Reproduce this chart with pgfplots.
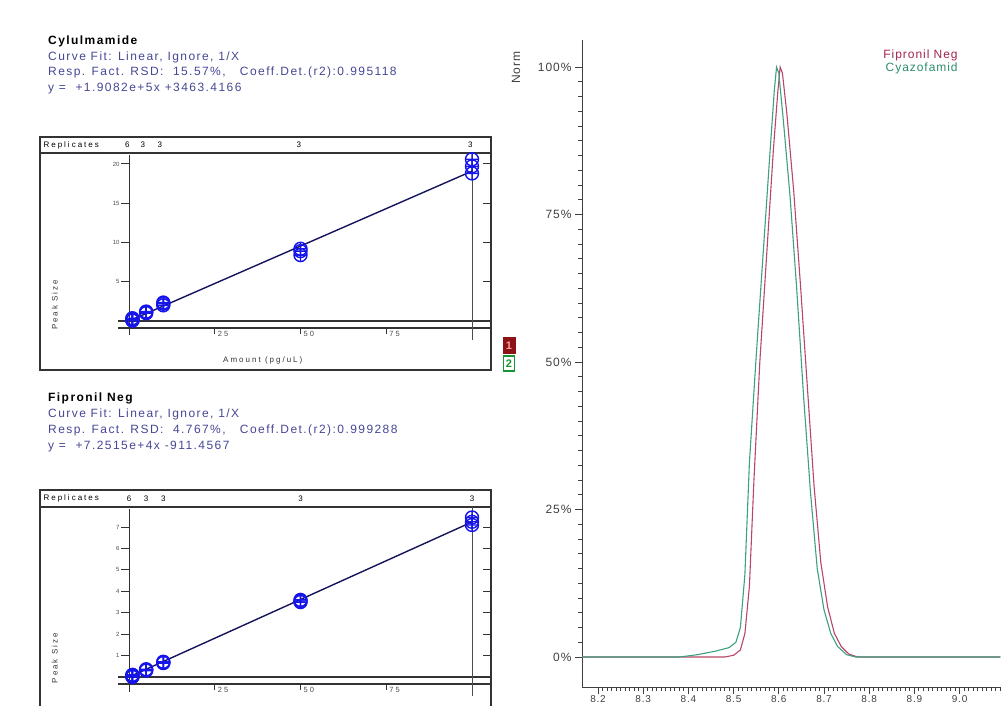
\documentclass[border=0pt]{standalone}
\usepackage{pgfplots}
\pgfplotsset{compat=1.18}
\usepackage{pgfplotstable}
\usetikzlibrary{plotmarks}
\usepackage{fontspec}
\setmainfont{Liberation Sans}
\newfontfamily\infofont[LetterSpace=12]{Liberation Sans}
\newfontfamily\smallfont[LetterSpace=25]{Liberation Sans}
\newfontfamily\chromfont[LetterSpace=8]{Liberation Sans}

\definecolor{calblue}{RGB}{20,20,235}
\definecolor{fitline}{RGB}{20,20,90}
\definecolor{infotext}{RGB}{70,70,150}
\definecolor{fipred}{RGB}{185,70,100}
\definecolor{cyagreen}{RGB}{60,160,130}
\definecolor{fiptext}{RGB}{165,35,75}
\definecolor{cyatext}{RGB}{45,140,110}
\definecolor{boxred}{RGB}{140,20,25}
\definecolor{boxgreen}{RGB}{20,150,50}

% calibration points, peak size in 1e6 units
\pgfplotstableread{
amt size
1 0.05
1 0.12
1 0.20
1 0.28
1 0.35
1 0.10
5 1.00
5 1.10
5 1.20
10 2.00
10 2.20
10 2.35
50 8.40
50 8.90
50 9.20
100 18.8
100 19.7
100 20.6
}\cylpts

\pgfplotstableread{
amt size
1 0.00
1 0.05
1 0.10
1 0.02
1 0.08
1 0.06
5 0.30
5 0.33
5 0.36
10 0.65
10 0.68
10 0.71
50 3.50
50 3.55
50 3.60
100 7.10
100 7.25
100 7.45
}\fippts

% normalised chromatograms (min, %)
\pgfplotstableread{
t y
8.165 0
8.480 0
8.500 0.3
8.515 1.2
8.525 4
8.535 12
8.545 30
8.558 50
8.573 68
8.588 86
8.598 96
8.603 100
8.608 99
8.618 92
8.633 79
8.648 63
8.663 46
8.678 29
8.693 16
8.708 8.5
8.723 4
8.738 1.8
8.755 0.5
8.775 0
9.090 0
}\fipchrom

\pgfplotstableread{
t y
8.165 0
8.380 0
8.420 0.4
8.460 1.0
8.490 1.6
8.505 2.5
8.515 5
8.525 14
8.535 33
8.550 51
8.565 68
8.580 85
8.590 96
8.595 100
8.600 99
8.610 91
8.625 78
8.640 62
8.655 44
8.670 28
8.685 15
8.700 8
8.715 4
8.730 1.8
8.750 0.4
8.770 0
9.090 0
}\cyachrom

\pgfplotsset{
  calib/.style={
    anchor=south west, scale only axis, width=451pt,
    xmin=-25.95, xmax=105.54,
    axis line style={black!80, line width=1.2pt},
    xtick=\empty, ytick=\empty, clip=false,
    label style={font=\smallfont\fontsize{8}{9}\selectfont, black!80},
  },
}

\begin{document}
\begin{tikzpicture}
\useasboundingbox (0pt,0pt) rectangle (1001pt,705pt);

% text blocks
\node[anchor=base west, inner sep=0] at (48pt,660pt) {\infofont\bfseries\fontsize{12}{13}\selectfont Cylulmamide};
\node[anchor=base west, inner sep=0, text=infotext] at (48pt,644pt) {\infofont\fontsize{12}{13}\selectfont Curve Fit: Linear, Ignore, 1/X};
\node[anchor=base west, inner sep=0, text=infotext] at (48pt,629pt) {\infofont\fontsize{12}{13}\selectfont Resp. Fact. RSD:\ \ 15.57\%,\ \ \ Coeff.Det.(r2):0.995118};
\node[anchor=base west, inner sep=0, text=infotext] at (48pt,613pt) {\infofont\fontsize{12}{13}\selectfont y =\ \ +1.9082e+5x +3463.4166};

\node[anchor=base west, inner sep=0] at (48pt,304pt) {\infofont\bfseries\fontsize{12}{13}\selectfont Fipronil Neg};
\node[anchor=base west, inner sep=0, text=infotext] at (48pt,288pt) {\infofont\fontsize{12}{13}\selectfont Curve Fit: Linear, Ignore, 1/X};
\node[anchor=base west, inner sep=0, text=infotext] at (48pt,272pt) {\infofont\fontsize{12}{13}\selectfont Resp. Fact. RSD:\ \ 4.767\%,\ \ \ Coeff.Det.(r2):0.999288};
\node[anchor=base west, inner sep=0, text=infotext] at (48pt,256pt) {\infofont\fontsize{12}{13}\selectfont y =\ \ +7.2515e+4x -911.4567};

% trace boxes
\node[fill=boxred, text=red!40, minimum width=13pt, minimum height=17pt, inner sep=0, font=\bfseries\fontsize{11}{11}\selectfont] at (509pt,359.5pt) {1};
\node[draw=boxgreen, line width=1.5pt, fill=white, text=boxgreen, minimum width=11pt, minimum height=15pt, inner sep=0, font=\bfseries\fontsize{11}{11}\selectfont] at (509pt,341.5pt) {2};

% ---- Cylulmamide calibration ----
\begin{axis}[calib,
  at={(40pt,335pt)}, height=217pt,
  ymin=-6.24, ymax=21.4,
  xlabel={Amount (pg/uL)},
  xlabel style={at={(axis description cs:0.494,0.046)}, anchor=center},
  ylabel={Peak Size},
  ylabel style={at={(axis description cs:0.033,0.30)}, anchor=center, rotate=0},
]
\draw[line width=1.2pt, black!80] (rel axis cs:0,1) rectangle ([yshift=16pt]rel axis cs:1,1);
\draw[line width=2.5pt, black!80] (rel axis cs:0,1) -- (rel axis cs:1,1);
\node[anchor=west, font=\smallfont\fontsize{8}{9}\selectfont] at ([yshift=8pt]rel axis cs:0,1) {Replicates};
\node[font=\fontsize{8}{9}\selectfont] at ([yshift=8pt]axis cs:-0.5,21.4) {6};
\node[font=\fontsize{8}{9}\selectfont] at ([yshift=8pt]axis cs:4,21.4) {3};
\node[font=\fontsize{8}{9}\selectfont] at ([yshift=8pt]axis cs:9,21.4) {3};
\node[font=\fontsize{8}{9}\selectfont] at ([yshift=8pt]axis cs:49.5,21.4) {3};
\node[font=\fontsize{8}{9}\selectfont] at ([yshift=8pt]axis cs:99.5,21.4) {3};
\draw[black!80, line width=0.9pt] (axis cs:0,21.2) -- (axis cs:0,-1.8);
\draw[black!80, line width=1.2pt] (axis cs:-3.2,0) -- (axis cs:105.54,0);
\draw[black!80, line width=1.2pt] (axis cs:-3.2,-0.9) -- (axis cs:105.54,-0.9);
\draw[black!70, line width=0.8pt] (axis cs:100,21.4) -- (axis cs:100,-2.4);
\pgfplotsinvokeforeach{5,10,15,20}{
  \draw[black!80, line width=1pt] (axis cs:0,#1) -- ++(-8pt,0pt) node[left, inner sep=1pt, font=\fontsize{6}{7}\selectfont, black!70]{#1};
  \draw[black!80, line width=1pt] (axis cs:105.54,#1) -- ++(-8pt,0pt);
}
\pgfplotsinvokeforeach{25,50,75}{
  \draw[black!80, line width=0.8pt] (axis cs:#1,-0.9) -- ++(0pt,-6pt);
  \node[anchor=north west, inner sep=1pt, font=\smallfont\fontsize{7.5}{8}\selectfont, black!70] at ([xshift=2pt,yshift=-2pt]axis cs:#1,-0.9) {#1};
}
\addplot[fitline, line width=1.4pt] coordinates {(1,0.194) (100,19.09)};
\addplot[only marks, mark=oplus, mark size=6.5pt, calblue, line width=1.4pt] table[x=amt, y=size] {\cylpts};
\end{axis}

% ---- Fipronil Neg calibration ----
\begin{axis}[calib,
  at={(40pt,-15pt)}, height=213pt,
  ymin=-2.01, ymax=7.94,
  ylabel={Peak Size},
  ylabel style={at={(axis description cs:0.033,0.29)}, anchor=center, rotate=0},
]
\draw[line width=1.2pt, black!80] (rel axis cs:0,1) rectangle ([yshift=17pt]rel axis cs:1,1);
\draw[line width=2.5pt, black!80] (rel axis cs:0,1) -- (rel axis cs:1,1);
\node[anchor=west, font=\smallfont\fontsize{8}{9}\selectfont] at ([yshift=8.5pt]rel axis cs:0,1) {Replicates};
\node[font=\fontsize{8}{9}\selectfont] at ([yshift=8.5pt]axis cs:0,7.94) {6};
\node[font=\fontsize{8}{9}\selectfont] at ([yshift=8.5pt]axis cs:5,7.94) {3};
\node[font=\fontsize{8}{9}\selectfont] at ([yshift=8.5pt]axis cs:10,7.94) {3};
\node[font=\fontsize{8}{9}\selectfont] at ([yshift=8.5pt]axis cs:50,7.94) {3};
\node[font=\fontsize{8}{9}\selectfont] at ([yshift=8.5pt]axis cs:100,7.94) {3};
\draw[black!80, line width=0.9pt] (axis cs:0,7.85) -- (axis cs:0,-0.7);
\draw[black!80, line width=1.2pt] (axis cs:-3.2,0) -- (axis cs:105.54,0);
\draw[black!80, line width=1.2pt] (axis cs:-3.2,-0.33) -- (axis cs:105.54,-0.33);
\draw[black!70, line width=0.8pt] (axis cs:100,7.94) -- (axis cs:100,-0.9);
\pgfplotsinvokeforeach{1,2,3,4,5,6,7}{
  \draw[black!80, line width=1pt] (axis cs:0,#1) -- ++(-8pt,0pt) node[left, inner sep=1pt, font=\fontsize{6}{7}\selectfont, black!70]{#1};
  \draw[black!80, line width=1pt] (axis cs:105.54,#1) -- ++(-8pt,0pt);
}
\pgfplotsinvokeforeach{25,50,75}{
  \draw[black!80, line width=0.8pt] (axis cs:#1,-0.33) -- ++(0pt,-6pt);
  \node[anchor=north west, inner sep=1pt, font=\smallfont\fontsize{7.5}{8}\selectfont, black!70] at ([xshift=2pt,yshift=-2pt]axis cs:#1,-0.33) {#1};
}
\addplot[fitline, line width=1.4pt] coordinates {(1,0.0716) (100,7.24)};
\addplot[only marks, mark=oplus, mark size=6.5pt, calblue, line width=1.4pt] table[x=amt, y=size] {\fippts};
\end{axis}

% ---- overlaid chromatograms ----
\begin{axis}[
  at={(582pt,18pt)}, anchor=south west,
  scale only axis, width=419pt, height=647pt,
  xmin=8.1646, xmax=9.0916, ymin=-5.08, ymax=104.6,
  axis lines=left, axis line style={-, black!75, line width=0.9pt},
  xtick={8.2,8.3,8.4,8.5,8.6,8.7,8.8,8.9,9.0,9.1},
  xticklabels={8.2,8.3,8.4,8.5,8.6,8.7,8.8,8.9,9.0,9.1},
  minor x tick num=9,
  ytick={0,25,50,75,100},
  yticklabels={0\%,25\%,50\%,75\%,100\%},
  minor y tick num=9,
  tick align=outside, major tick length=7pt, minor tick length=4pt,
  tick style={black!75, line width=0.9pt},
  /pgf/number format/assume math mode=true,
  tick label style={font=\chromfont\fontsize{12}{13}\selectfont, black!75},
  xticklabel style={font=\chromfont\fontsize{10}{11}\selectfont, inner sep=1pt},
  ylabel={Norm},
  ylabel style={at={(axis description cs:-0.1575,0.957)}, anchor=center, font=\chromfont\fontsize{12}{13}\selectfont, black!75},
  legend style={at={(axis description cs:0.909,0.992)}, anchor=north east, draw=none, fill=none,
    font=\chromfont\fontsize{12}{13}\selectfont, row sep=-0.5pt},
  legend cell align=right,
  legend image code/.code={},
]
\addplot[fipred, line width=1.1pt] table[x=t, y=y] {\fipchrom};
\addlegendentry{\textcolor{fiptext}{Fipronil Neg}}
\addplot[cyagreen, line width=1.1pt] table[x=t, y=y] {\cyachrom};
\addlegendentry{\textcolor{cyatext}{Cyazofamid}}
\end{axis}
\end{tikzpicture}
\end{document}
